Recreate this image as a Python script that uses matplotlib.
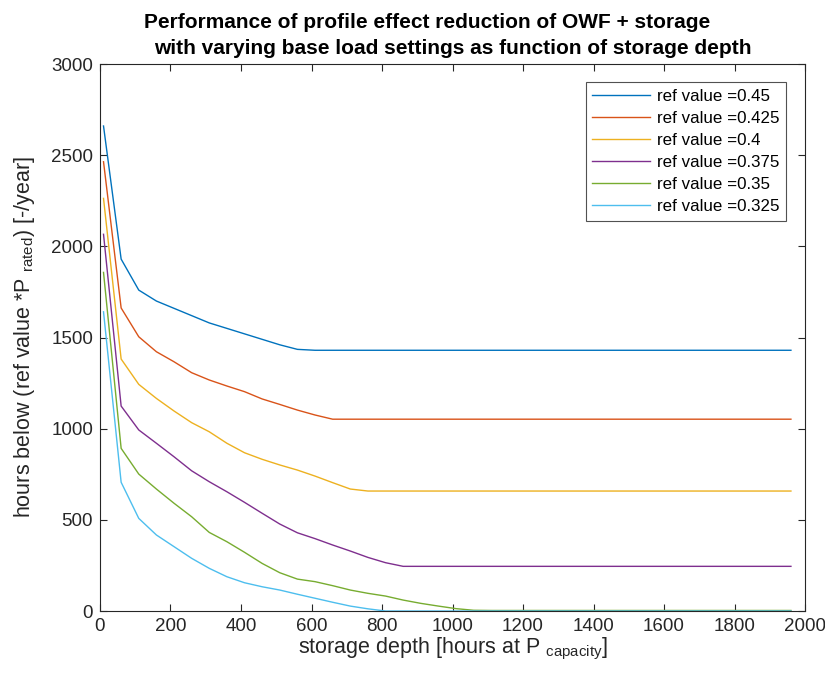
import matplotlib
matplotlib.use("Agg")
import matplotlib.pyplot as plt

# storage depth [hours at P_capacity]
depth = list(range(10, 2000, 50))

ref_labels = ["ref value =0.45", "ref value =0.425", "ref value =0.4",
              "ref value =0.375", "ref value =0.35", "ref value =0.325"]

# hours below ref value
h_045 = [2660, 1930, 1760, 1700, 1660, 1620, 1580, 1550, 1520, 1490,
         1460, 1435, 1430]
h_0425 = [2464, 1662, 1504, 1422, 1367, 1307, 1267, 1234, 1203, 1163,
          1133, 1102, 1075, 1052]
h_040 = [2263, 1382, 1243, 1166, 1097, 1033, 983, 920, 868, 832,
         801, 773, 740, 704, 669, 658]
h_0375 = [2066, 1124, 993, 920, 846, 769, 709, 654, 596, 536,
          477, 429, 397, 362, 329, 294, 265, 245]
h_035 = [1857, 892, 751, 669, 591, 517, 431, 380, 322, 261,
         210, 175, 161, 139, 115, 97, 82, 60, 42, 27, 13, 4, 3]
h_0325 = [1641, 706, 508, 417, 353, 289, 234, 188, 155, 133,
          115, 92, 70, 48, 27, 12, 0]


def pad(vals):
    # curves stay flat once the plateau is reached
    return vals + [vals[-1]] * (len(depth) - len(vals))


series = [h_045, h_0425, h_040, h_0375, h_035, h_0325]
colors = ["#0072BD", "#D95319", "#EDB120", "#7E2F8E", "#77AC30", "#4DBEEE"]

plt.rcParams["font.family"] = ["Liberation Sans", "DejaVu Sans"]
plt.rcParams["mathtext.default"] = "regular"

fig = plt.figure(figsize=(8.25, 6.78), dpi=100)
ax = fig.add_axes([0.1212, 0.0988, 0.8546, 0.8068])

for vals, c, lab in zip(series, colors, ref_labels):
    ax.plot(depth, pad(vals), color=c, lw=1.0, label=lab)

ax.set_xlim(0, 2000)
ax.set_ylim(0, 3000)
ax.set_xticks(range(0, 2001, 200))
ax.set_yticks(range(0, 3001, 500))

gray = "#262626"
ax.tick_params(direction="in", top=True, right=True, length=5,
               labelsize=13.5, colors=gray, width=0.8, pad=5)
for s in ax.spines.values():
    s.set_color(gray)
    s.set_linewidth(0.8)

ax.set_xlabel("storage depth [hours at P $_{capacity}$]", fontsize=15.5,
              color=gray, labelpad=1)
ax.set_ylabel("hours below (ref value *P $_{rated}$) [-/year]", fontsize=15.5,
              color=gray, labelpad=10)
# first line is set off a bit to the left in the original
ax.set_title("Performance of profile effect reduction of OWF + storage" + " " * 9 + "\n"
             "with varying base load settings as function of storage depth",
             fontsize=15, fontweight="bold", color="black", pad=7,
             linespacing=1.5)

leg = ax.legend(loc="upper right", bbox_to_anchor=(0.973, 0.967),
                fontsize=12.2, frameon=True, fancybox=False,
                handlelength=3.4, handletextpad=0.4, borderpad=0.4,
                labelspacing=0.42, borderaxespad=0)
leg.get_frame().set_edgecolor(gray)
leg.get_frame().set_linewidth(0.8)

fig.savefig("out.png", dpi=100)
